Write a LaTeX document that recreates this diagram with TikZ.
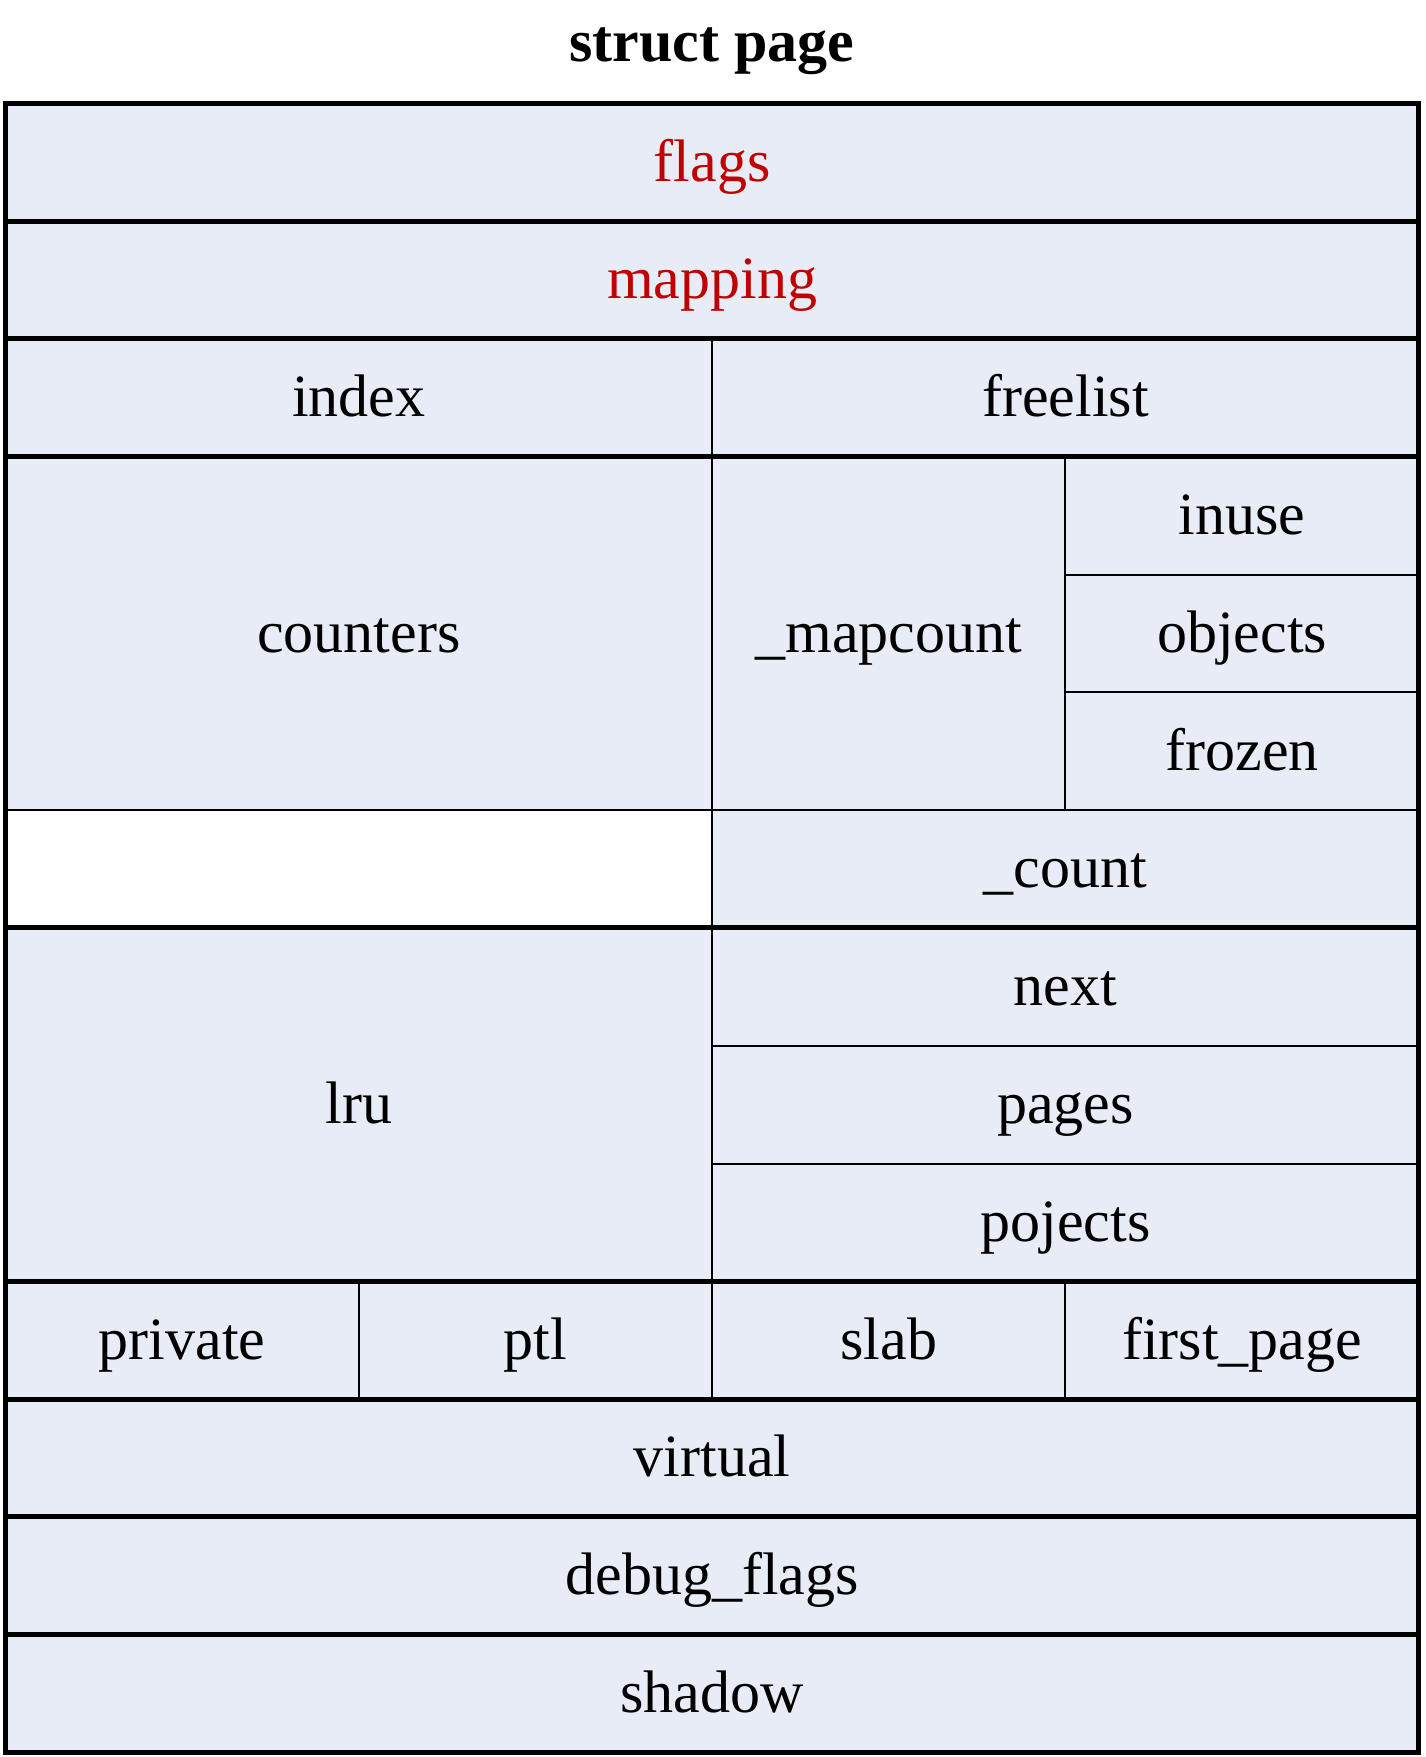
\documentclass[tikz,border=0pt]{standalone}
\usepackage{fontspec}
\setmainfont{Liberation Serif}
\definecolor{cellfill}{HTML}{E7ECF6}
\definecolor{fieldred}{HTML}{C00000}

\begin{document}
\begin{tikzpicture}[x=353.3pt, y=117.8pt,
    field/.style={draw, line width=2pt, fill=cellfill, anchor=north west,
      outer sep=0pt, inner sep=0pt, font=\fontsize{60}{72}\selectfont,
      text height=49.8pt, text depth=12pt,
      minimum width=353.3pt, minimum height=117.8pt},
    wide/.style={minimum width=#1*353.3pt},
    tall/.style={minimum height=#1*117.8pt},
    border/.style={line width=5pt}]
    \useasboundingbox (-5.5pt,103.3pt) rectangle (1420.5pt,-1653.7pt);

    % Rows 0-2
    \node[field, wide=4, text=fieldred] (flags) at (0,0) {flags};
    \node[field, wide=4, text=fieldred] (mapping) at (0,-1) {mapping};
    \node[field, wide=2] (index) at (0,-2) {index};
    \node[field, wide=2] (freelist) at (2,-2) {freelist};

    % Rows 3-6
    \node[field, wide=2, tall=3] (counters) at (0,-3) {counters};
    \node[field, tall=3] (mapcount) at (2,-3) {\_mapcount};
    \node[field] (inuse) at (3,-3) {inuse};
    \node[field] (objects) at (3,-4) {objects};
    \node[field] (frozen) at (3,-5) {frozen};
    \node[field, wide=2, fill=white] (blank) at (0,-6) {};
    \node[field, wide=2] (count) at (2,-6) {\_count};

    % Rows 7-9
    \node[field, wide=2, tall=3] (lru) at (0,-7) {lru};
    \node[field, wide=2] (next) at (2,-7) {next};
    \node[field, wide=2] (pages) at (2,-8) {pages};
    \node[field, wide=2] (pojects) at (2,-9) {pojects};

    % Row 10
    \node[field] (private) at (0,-10) {private};
    \node[field] (ptl) at (1,-10) {ptl};
    \node[field] (slab) at (2,-10) {slab};
    \node[field] (firstpage) at (3,-10) {first\_page};

    % Rows 11-13
    \node[field, wide=4] (virtual) at (0,-11) {virtual};
    \node[field, wide=4] (debug) at (0,-12) {debug\_flags};
    \node[field, wide=4] (shadow) at (0,-13) {shadow};

    % Thick lines between the groups
    \foreach \a/\b in {mapping/mapping, index/freelist, counters/inuse, lru/next,
        private/firstpage, virtual/virtual, debug/debug, shadow/shadow}
      \draw[border] (\a.north west) -- (\b.north east);
    \draw[border] (flags.north west) rectangle (shadow.south east);

    % Title
    \node[font=\fontsize{60}{72}\selectfont\bfseries, anchor=base] (title)
      at ([yshift=42.3pt]flags.north) {struct page};
\end{tikzpicture}
\end{document}
